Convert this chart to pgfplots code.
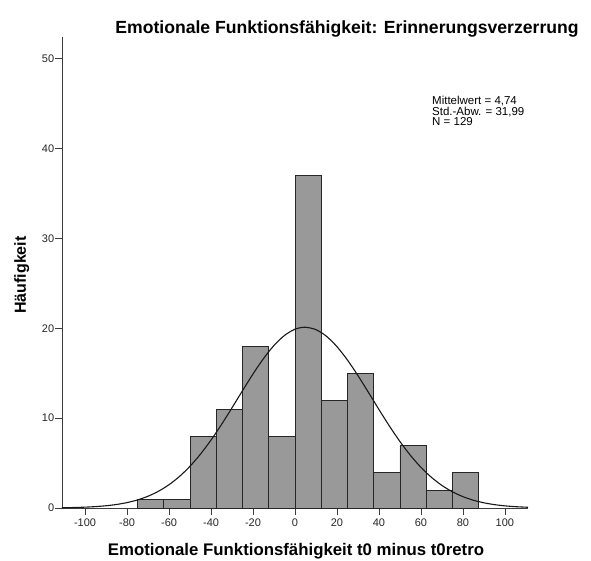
\documentclass[border=0pt]{standalone}
\usepackage{fontspec}
\setmainfont{Liberation Sans}
\usepackage{pgfplots}
\pgfplotsset{compat=1.18}
\definecolor{barfill}{RGB}{153,153,153}
\definecolor{axisgray}{RGB}{60,60,60}
\begin{document}
\begin{tikzpicture}[x=1pt,y=1pt]
\useasboundingbox (-62,-52) rectangle (529,508);
\begin{axis}[
  at={(0,0)}, anchor=south west,
  scale only axis, width=466pt, height=471pt,
  xmin=-111, xmax=111, ymin=0, ymax=52.4,
  axis x line=bottom, axis y line=left,
  axis line style={-, axisgray, line width=0.8pt},
  xtick={-100,-80,...,100}, ytick={0,10,...,50},
  tick align=outside, major tick length=7pt,
  tick style={axisgray, line width=0.8pt},
  tick label style={font=\fontsize{11}{11}\selectfont, text=black!85},
  yticklabel style={inner xsep=0.6pt},
  /pgf/number format/assume math mode=true,
]
% histogram counts, bin width 12.5
\addplot[ybar interval, fill=barfill, draw=black!85, line width=0.7pt] coordinates {
  (-75,1) (-62.5,1) (-50,8) (-37.5,11) (-25,18) (-12.5,8) (0,37)
  (12.5,12) (25,15) (37.5,4) (50,7) (62.5,2) (75,4) (87.5,4)
};
% fitted normal curve (mean 4.74, sd 31.99, N 129)
\addplot[smooth, black!90, line width=1.1pt] coordinates {
  (-111,0.029) (-105,0.056) (-100,0.095) (-95,0.156) (-90,0.251) (-85,0.393)
  (-80,0.602) (-75,0.900) (-70,1.313) (-65,1.869) (-60,2.595) (-55,3.517)
  (-50,4.652) (-45,6.004) (-40,7.563) (-35,9.296) (-30,11.151) (-25,13.054)
  (-20,14.912) (-15,16.624) (-10,18.084) (-5,19.199) (0,19.890) (4.74,20.110)
  (10,19.840) (15,19.102) (20,17.947) (25,16.456) (30,14.724) (35,12.857)
  (40,10.954) (45,9.109) (50,7.392) (55,5.853) (60,4.523) (65,3.411)
  (70,2.510) (75,1.803) (80,1.263) (85,0.864) (90,0.577) (95,0.376)
  (100,0.239) (105,0.148) (111,0.081)
};
\end{axis}
\node[anchor=base, font=\bfseries\fontsize{17.6}{17.6}\selectfont] at (285,474)
  {Emotionale Funktionsfähigkeit: Erinnerungsverzerrung};
\node[anchor=base, font=\bfseries\fontsize{16.8}{16.8}\selectfont] at (234,-47)
  {Emotionale Funktionsfähigkeit t0 minus t0retro};
\node[anchor=base, rotate=90, font=\bfseries\fontsize{16}{16}\selectfont] at (-36,233)
  {Häufigkeit};
\node[anchor=north west, align=left, inner sep=0pt,
      font=\fontsize{11.5}{10.5}\selectfont] at (370,412)
  {Mittelwert = 4,74\\Std.-Abw. = 31,99\\N = 129};
\end{tikzpicture}
\end{document}
